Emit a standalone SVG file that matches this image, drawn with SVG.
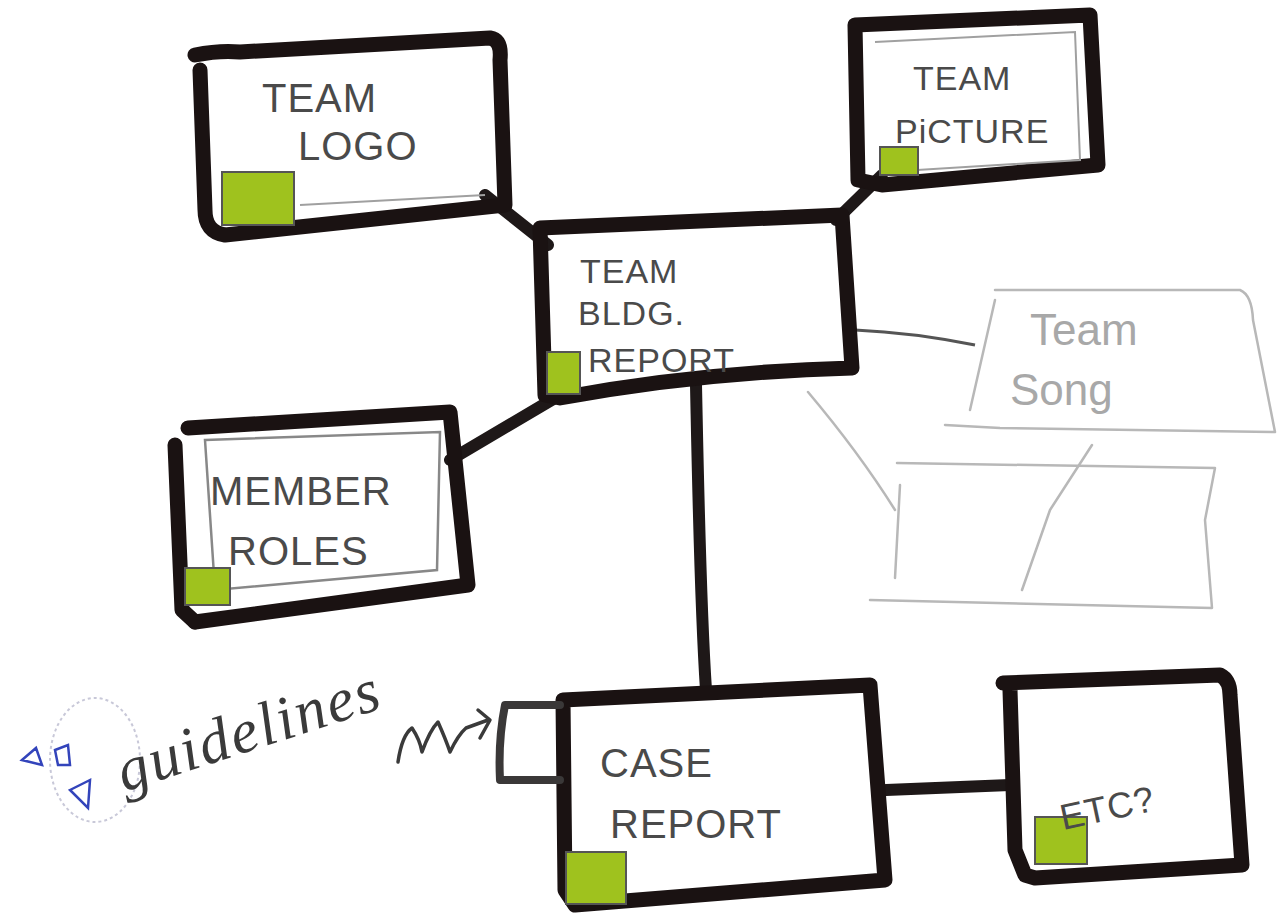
<svg xmlns="http://www.w3.org/2000/svg" width="1284" height="916" viewBox="0 0 1284 916">
<style>
.box{fill:none;stroke:#1a1212;stroke-width:15;stroke-linejoin:round;stroke-linecap:round}
.inner{fill:none;stroke:#a0a0a0;stroke-width:2}
.green{fill:#9fc21e;stroke:#555;stroke-width:2}
.lbl{font-family:"Liberation Sans",Arial,sans-serif;font-size:40px;fill:#4a4a4a;letter-spacing:1px}
.conn{fill:none;stroke:#1e1818;stroke-width:12;stroke-linecap:round}
.faint{fill:none;stroke:#b8b8b8;stroke-width:2.5;stroke-linecap:round;stroke-linejoin:round}
.fainttxt{font-family:"Liberation Sans",Arial,sans-serif;font-size:44px;fill:#a8a8a8}
</style>
<rect width="1284" height="916" fill="#ffffff"/>

<g id="connectors">
  <path class="conn" d="M485,195 L548,245"/>
  <path class="conn" d="M882,175 L836,220"/>
  <path class="conn" d="M560,395 L450,460"/>
  <path class="conn" d="M696,385 C698,480 700,600 706,690"/>
  <path class="conn" d="M886,790 L1010,785"/>
  <path fill="none" stroke="#555" stroke-width="3" d="M855,330 C900,332 940,338 975,345"/>
  <path class="faint" d="M808,392 C840,430 870,470 895,510"/>
</g>

<g id="team-logo">
  <path class="box" d="M195,55 Q220,50 240,52 L490,38 Q502,40 500,60 L505,205 L225,235 Q205,232 205,210 L200,70"/>
  <path class="inner" d="M300,205 L485,195"/>
  <rect class="green" x="222" y="172" width="72" height="53"/>
  <text class="lbl" x="262" y="112">TEAM</text>
  <text class="lbl" x="298" y="160">LOGO</text>
</g>

<g id="team-picture">
  <path class="box" d="M855,25 L1090,15 L1098,165 L882,185 L858,180 Z"/>
  <path class="inner" d="M875,42 L1075,32 L1080,160 L885,172"/>
  <rect class="green" x="880" y="147" width="38" height="28"/>
  <text class="lbl" x="913" y="90" style="font-size:34px">TEAM</text>
  <text class="lbl" x="895" y="143" style="font-size:34px">PiCTURE</text>
</g>

<g id="team-bldg-report">
  <path class="box" d="M540,228 L842,215 L852,368 Q700,372 560,398 L545,395 Z"/>
  <rect class="green" x="547" y="352" width="33" height="42"/>
  <text class="lbl" x="580" y="283" style="font-size:34px">TEAM</text>
  <text class="lbl" x="578" y="325" style="font-size:34px">BLDG.</text>
  <text class="lbl" x="588" y="372" style="font-size:34px">REPORT</text>
</g>

<g id="member-roles">
  <path class="box" d="M188,428 L450,412 L468,585 L195,622"/>
  <path class="box" d="M175,445 L182,610 L195,622"/>
  <path class="inner" style="stroke:#888;stroke-width:2.5" d="M205,440 L440,432 L437,570 L215,590 Z"/>
  <rect class="green" x="185" y="568" width="45" height="37"/>
  <text class="lbl" x="210" y="505">MEMBER</text>
  <text class="lbl" x="228" y="565">ROLES</text>
</g>

<g id="case-report">
  <path class="box" d="M563,700 L870,685 L885,880 L575,905 L565,890 Z"/>
  <path class="box" style="stroke:#3a3838;stroke-width:8" d="M560,705 L505,705 Q498,740 500,780 L560,780"/>
  <rect class="green" x="566" y="852" width="60" height="52"/>
  <text class="lbl" x="600" y="777">CASE</text>
  <text class="lbl" x="610" y="838">REPORT</text>
</g>

<g id="etc">
  <path class="box" d="M1003,683 L1220,675 Q1230,680 1230,695 L1242,865 L1035,878 L1025,875 L1015,850 L1010,690"/>
  <rect class="green" x="1035" y="817" width="52" height="47"/>
  <text class="lbl" x="1063" y="830" transform="rotate(-12 1063 830)" style="font-size:36px">ETC?</text>
</g>

<g id="team-song">
  <path class="faint" d="M995,290 L1240,290 Q1252,295 1253,320 L1275,432 L1000,428 L945,425"/>
  <path class="faint" d="M995,300 L970,410"/>
  <text class="fainttxt" x="1030" y="345">Team</text>
  <text class="fainttxt" x="1010" y="405">Song</text>
</g>

<g id="empty-box">
  <path class="faint" d="M897,463 L1215,468 L1205,520 L1212,608 L870,600"/>
  <path class="faint" d="M900,485 L895,578"/>
  <path class="faint" d="M1092,445 L1050,510 L1022,590"/>
</g>

<g id="guidelines">
  <ellipse cx="95" cy="760" rx="45" ry="62" fill="none" stroke="#c8c8d8" stroke-width="2" stroke-dasharray="3,3"/>
  <path fill="none" stroke="#3344bb" stroke-width="2.5" d="M22,760 L36,748 L42,765 Z M55,750 L68,745 L70,765 L58,765 Z M70,790 L90,780 L88,808 Z"/>
  <text font-family="'Liberation Serif',serif" font-style="italic" font-size="62" fill="#3a3a3a" x="124" y="792" transform="rotate(-18 124 792)" letter-spacing="2">guidelines</text>
  <path fill="none" stroke="#3a3a3a" stroke-width="3.5" stroke-linecap="round" stroke-linejoin="round" d="M398,762 Q402,735 412,728 Q420,740 422,752 Q430,730 438,722 Q446,740 450,752 Q458,735 466,728 L488,720 M478,710 L490,720 L480,738"/>
</g>
</svg>
